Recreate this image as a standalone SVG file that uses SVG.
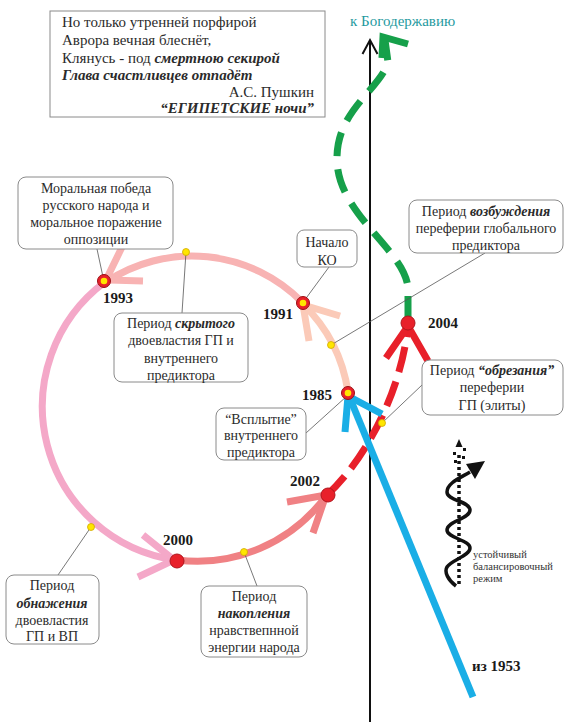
<svg xmlns="http://www.w3.org/2000/svg" width="564" height="722" viewBox="0 0 564 722">
<style>
text{font-family:"Liberation Serif","Times New Roman",serif;fill:#2b2b2b}
.q{font-size:15px}
.lb{font-size:14px;text-anchor:middle}
.yr{font-size:15px;font-weight:bold;fill:#1a1a1a}
.bi{font-weight:bold;font-style:italic}
.box{fill:#fff;stroke:#8a8a8a;stroke-width:1}
.ld{stroke:#555;stroke-width:0.8;fill:none}
.arc{fill:none;stroke-width:7;stroke-linecap:butt}
.yd{fill:#ffe600;stroke:#d0a800;stroke-width:0.8}
.ring{fill:#e8202a;stroke:#9a0f14;stroke-width:1}
.dot{fill:#e8202a;stroke:#b0151c;stroke-width:1}
</style>
<rect width="564" height="722" fill="#fff"/>

<g id="quote">
<rect x="50" y="11" width="275" height="106" fill="#fff" stroke="#8a8a8a" stroke-width="1"/>
<text class="q" x="62" y="27">Но только утренней порфирой</text>
<text class="q" x="62" y="45">Аврора вечная блеснёт,</text>
<text class="q" x="62" y="63">Клянусь - под <tspan class="bi">смертною секирой</tspan></text>
<text class="q bi" x="62" y="80">Глава счастливцев отпадёт</text>
<text class="q" x="314" y="97" text-anchor="end">А.С. Пушкин</text>
<text class="q bi" x="314" y="113" text-anchor="end">“ЕГИПЕТСКИЕ ночи”</text>
</g>

<g id="axis">
<line x1="370" y1="722" x2="370" y2="41" stroke="#111" stroke-width="2"/>
<polyline points="362.5,54 370,40 377.5,54" fill="none" stroke="#111" stroke-width="2"/>
<text x="350" y="26" style="font-size:15px;fill:#1f9aa0">к Богодержавию</text>
</g>

<g id="connectors">
<!-- 1985 -> 1991 -->
<path class="arc" d="M348,392 A155,155 0 0 0 303,304" stroke="#fbcab8"/>
<polyline class="arc" points="340,316 303,305 309,341" stroke="#fbcab8" fill="none"/>
<!-- 1991 -> 1993 -->
<path class="arc" d="M302,302 A155,155 0 0 0 106,282" stroke="#f8b3b3"/>
<polyline class="arc" points="143,281 106,280 123,245" stroke="#f8b3b3" fill="none"/>
<!-- 1993 -> 2000 -->
<path class="arc" d="M105,282 A155,155 0 0 0 176,560" stroke="#f4a8c8"/>
<polyline class="arc" points="143,535 174,560 138,577" stroke="#f4a8c8" fill="none"/>
<!-- 2000 -> 2002 -->
<path class="arc" d="M177,560 A160,160 0 0 0 326,496" stroke="#f08184"/>
<polyline class="arc" points="287,502 326,495 313,533" stroke="#f08184" fill="none"/>
<!-- 2002 -> 2004 red dashed -->
<path class="arc" d="M327,495 C360,465 400,400 408,326" stroke="#e8202a" stroke-dasharray="26 10"/>
<polyline class="arc" points="386,358 408,326 428,361" stroke="#e8202a" fill="none"/>
<!-- green dashed -->
<path class="arc" d="M408,320 L408,288 C405,250 338,215 337,160 C336,110 380,90 388,62 L385,40" stroke="#16a04a" stroke-width="6" stroke-dasharray="24 13"/>
<polyline class="arc" points="408,44 383,37 382,58" stroke="#16a04a" stroke-width="6" fill="none"/>
<!-- blue from 1953 -->
<line class="arc" x1="473" y1="697" x2="349" y2="396" stroke="#1aaee6"/>
<polyline class="arc" points="345,432 348,396 382,414" stroke="#1aaee6" fill="none"/>
<!-- leaders -->
<line class="ld" x1="97" y1="249" x2="103" y2="277"/>
<line class="ld" x1="182" y1="313" x2="186" y2="252"/>
<line class="ld" x1="329" y1="267" x2="304" y2="301"/>
<line class="ld" x1="485" y1="253" x2="331" y2="345"/>
<line class="ld" x1="422" y1="385" x2="382" y2="423"/>
<line class="ld" x1="306" y1="433" x2="347" y2="396"/>
<line class="ld" x1="58" y1="575" x2="91" y2="527"/>
<line class="ld" x1="257" y1="586" x2="244" y2="552"/>
</g>

<g id="yellow-dots">
<circle class="yd" cx="331" cy="345" r="3.5"/>
<circle class="yd" cx="186" cy="252" r="3.5"/>
<circle class="yd" cx="91" cy="527" r="3.5"/>
<circle class="yd" cx="244" cy="552" r="3.5"/>
<circle class="yd" cx="382" cy="423" r="3.5"/>
</g>

<g id="p1993"><circle class="ring" cx="104" cy="281" r="6.5"/><circle cx="104" cy="281" r="3.3" fill="#ffe600"/><text class="yr" x="103" y="303">1993</text></g>
<g id="p1991"><circle class="ring" cx="303" cy="303" r="6.5"/><circle cx="303" cy="303" r="3.3" fill="#ffe600"/><text class="yr" x="263" y="319">1991</text></g>
<g id="p1985"><circle class="ring" cx="348" cy="393" r="6.5"/><circle cx="348" cy="393" r="3.3" fill="#ffe600"/><text class="yr" x="302" y="400">1985</text></g>
<g id="p2000"><circle class="dot" cx="177" cy="561" r="7"/><text class="yr" x="163" y="545">2000</text></g>
<g id="p2002"><circle class="dot" cx="328" cy="495" r="7"/><text class="yr" x="290" y="486">2002</text></g>
<g id="p2004"><circle class="dot" cx="408" cy="323" r="7"/><text class="yr" x="428" y="328">2004</text></g>

<g id="n-moral">
<rect class="box" x="18" y="177" width="155" height="72" rx="8"/>
<text class="lb" x="96" y="193">Моральная победа</text>
<text class="lb" x="96" y="210">русского народа и</text>
<text class="lb" x="96" y="227">моральное поражение</text>
<text class="lb" x="96" y="244">оппозиции</text>
</g>
<g id="n-hidden">
<rect class="box" x="114" y="313" width="134" height="69" rx="8"/>
<text class="lb" x="181" y="328">Период <tspan class="bi">скрытого</tspan></text>
<text class="lb" x="181" y="345">двоевластия ГП и</text>
<text class="lb" x="181" y="363">внутреннего</text>
<text class="lb" x="181" y="380">предиктора</text>
</g>
<g id="n-ko">
<rect class="box" x="297" y="230" width="60" height="37" rx="7"/>
<text class="lb" x="327" y="247">Начало</text>
<text class="lb" x="327" y="265">КО</text>
</g>
<g id="n-excite">
<rect class="box" x="409" y="200" width="154" height="53" rx="8"/>
<text class="lb" x="486" y="216">Период <tspan class="bi">возбуждения</tspan></text>
<text class="lb" x="486" y="233">переферии глобального</text>
<text class="lb" x="486" y="250">предиктора</text>
</g>
<g id="n-cut">
<rect class="box" x="422" y="360" width="141" height="55" rx="8"/>
<text class="lb" x="492" y="375">Период <tspan class="bi">“обрезания”</tspan></text>
<text class="lb" x="492" y="392">переферии</text>
<text class="lb" x="492" y="410">ГП (элиты)</text>
</g>
<g id="n-surface">
<rect class="box" x="216" y="408" width="90" height="52" rx="8"/>
<text class="lb" x="261" y="424">“Всплытие”</text>
<text class="lb" x="261" y="440">внутреннего</text>
<text class="lb" x="261" y="457">предиктора</text>
</g>
<g id="n-expose">
<rect class="box" x="6" y="575" width="93" height="69" rx="8"/>
<text class="lb" x="52" y="590">Период</text>
<text class="lb bi" x="52" y="608">обнажения</text>
<text class="lb" x="52" y="625">двоевластия</text>
<text class="lb" x="52" y="641">ГП и ВП</text>
</g>
<g id="n-accum">
<rect class="box" x="201" y="586" width="106" height="71" rx="8"/>
<text class="lb" x="254" y="601">Период</text>
<text class="lb bi" x="254" y="618">накопления</text>
<text class="lb" x="254" y="635">нравствепнной</text>
<text class="lb" x="254" y="652">энергии народа</text>
</g>

<g id="n-1953"><text x="472" y="671" style="font-size:15px;font-weight:bold;fill:#1a1a1a">из 1953</text></g>

<g id="legend">
<line x1="459" y1="584" x2="459" y2="452" stroke="#111" stroke-width="3.5" stroke-dasharray="3 3"/>
<rect x="453" y="452" width="3" height="3" fill="#111"/>
<rect x="462" y="456" width="3" height="3" fill="#111"/>
<rect x="454" y="460" width="3" height="3" fill="#111"/>
<rect x="463" y="448" width="3" height="3" fill="#111"/>
<polygon points="459,439 455.5,447 462.5,447" fill="#111"/>
<path d="M456,586 C448,580 444,572 447,567 C451,560 470,556 470,548 C470,540 447,538 447,530 C447,521 470,519 470,510 C470,501 447,501 447,492 C447,483 460,478 470,472" fill="none" stroke="#111" stroke-width="3.5"/>
<polygon points="485,461 466,464 475,479" fill="#111"/>
<text x="473" y="558" style="font-size:10.5px;fill:#333">устойчивый</text>
<text x="473" y="570" style="font-size:10.5px;fill:#333">балансировочный</text>
<text x="473" y="582" style="font-size:10.5px;fill:#333">режим</text>
</g>
</svg>
